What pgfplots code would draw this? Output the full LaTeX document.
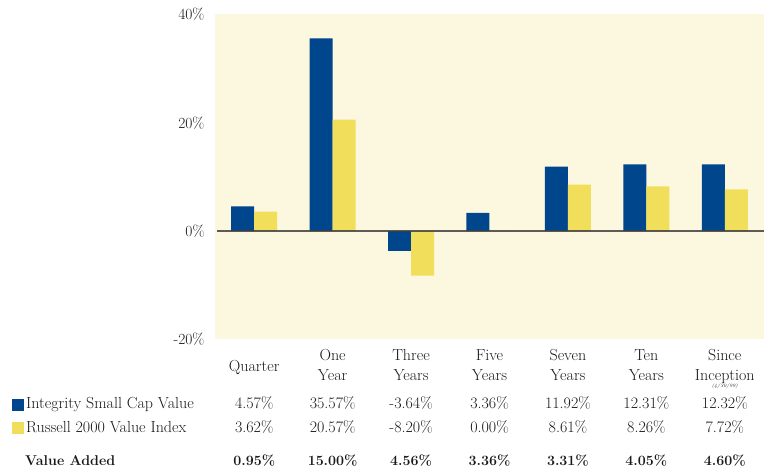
\documentclass[border=0pt]{standalone}
\usepackage{pgfplots}
\pgfplotsset{compat=1.18}
\definecolor{bgc}{RGB}{252,247,223}
\definecolor{navy}{RGB}{0,70,140}
\definecolor{yel}{RGB}{241,223,91}
\definecolor{txt}{RGB}{25,25,25}
\newcommand{\fs}{\fontsize{16pt}{19pt}\selectfont}
\newcommand{\fb}{\fontsize{14.2pt}{17pt}\selectfont\bfseries}
\begin{document}
\begin{tikzpicture}
\path[use as bounding box] (-215pt,-133.5pt) rectangle (549pt,339.5pt);
\begin{axis}[
  at={(0pt,0pt)}, anchor=south west,
  scale only axis, width=549pt, height=325pt,
  xmin=-0.5, xmax=6.5, ymin=-20, ymax=40,
  axis background/.style={fill=bgc},
  axis line style={draw=none},
  xtick=\empty,
  ytick={-20,0,20,40},
  yticklabel={\pgfmathprintnumber{\tick}\%},
  major tick length=0pt,
  yticklabel style={font=\fontsize{15.5pt}{18pt}\selectfont, text=txt, xshift=-7pt},
  /pgf/number format/assume math mode=true,
  ybar=0pt, bar width=23pt,
  clip=false,
]
\addplot[fill=navy, draw=none] coordinates {(0,4.57) (1,35.57) (2,-3.64) (3,3.36) (4,11.92) (5,12.31) (6,12.32)};
\addplot[fill=yel, draw=none] coordinates {(0,3.62) (1,20.57) (2,-8.20) (3,0.00) (4,8.61) (5,8.26) (6,7.72)};
\end{axis}
\draw[black!75, opacity=0.85, line width=1.5pt] (2pt,108.5pt) -- (549pt,108.5pt);
\begin{scope}[every node/.style={font=\fs, text=txt, anchor=base, inner sep=0pt}]
% category labels
\foreach \i/\a/\b in {1/One/Year,2/Three/Years,3/Five/Years,4/Seven/Years,5/Ten/Years,6/Since/Inception}{
  \node at ({39.2pt+78.43pt*\i},-21.5pt) {\a};
  \node at ({39.2pt+78.43pt*\i},-41.5pt) {\b};
}
\node at (39.2pt,-32.5pt) {Quarter};
\node[font=\fontsize{5pt}{5.5pt}\selectfont\itshape] at ({39.2pt+78.43pt*6},-48.5pt) {(4/30/99)};
% rows
\foreach \v [count=\i from 0] in {4.57\%,35.57\%,-3.64\%,3.36\%,11.92\%,12.31\%,12.32\%}{
  \node at ({39.2pt+78.43pt*\i},-69.5pt) {\v};}
\foreach \v [count=\i from 0] in {3.62\%,20.57\%,-8.20\%,0.00\%,8.61\%,8.26\%,7.72\%}{
  \node at ({39.2pt+78.43pt*\i},-93.5pt) {\v};}
\foreach \v [count=\i from 0] in {0.95\%,15.00\%,4.56\%,3.36\%,3.31\%,4.05\%,4.60\%}{
  \node[font=\fb] at ({39.2pt+78.43pt*\i},-126.5pt) {\v};}
\node[anchor=base west] at (-189pt,-69.5pt) {Integrity Small Cap Value};
\node[anchor=base west] at (-189pt,-93.5pt) {Russell 2000 Value Index};
\node[anchor=base west, font=\fb] at (-190pt,-126.5pt) {Value Added};
\end{scope}
\fill[navy] (-203pt,-71.5pt) rectangle (-191pt,-59.5pt);
\fill[yel] (-203pt,-94.5pt) rectangle (-191pt,-82.5pt);
\end{tikzpicture}
\end{document}
